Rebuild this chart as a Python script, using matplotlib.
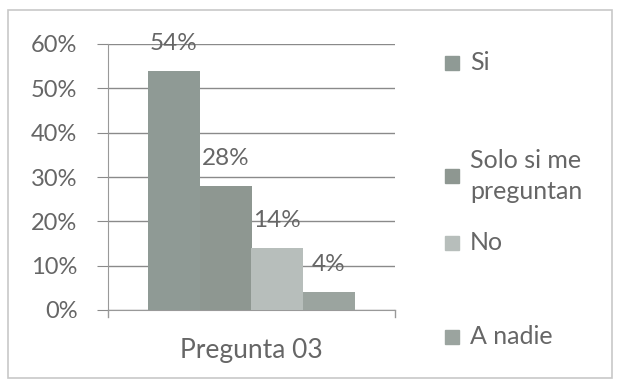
import matplotlib
matplotlib.use("Agg")
import matplotlib.pyplot as plt
from matplotlib.patches import Rectangle
from matplotlib.ticker import FuncFormatter

categories = ["Si", "Solo si me\npreguntan", "No", "A nadie"]
values = [54, 28, 14, 4]
labels = ["54%", "28%", "14%", "4%"]
colors = ["#8f9a95", "#8e9791", "#b7bebb", "#9ba49f"]
xlabel = "Pregunta 03"
yticks = [0, 10, 20, 30, 40, 50, 60]

plt.rcParams['font.family'] = ['Lato', 'DejaVu Sans']
text_color = "#666666"

W, H = 618, 380
fig = plt.figure(figsize=(6.18, 3.8), dpi=100)
fig.patch.set_facecolor("white")
fig.patches.append(Rectangle((8/W, 2/H), 604/W, 368/H, transform=fig.transFigure,
                             fill=False, edgecolor="#c8c8c8", linewidth=1.2))

ax = fig.add_axes([108/W, 1 - 310/H, (395-108)/W, (310-44)/H])
ax.set_xlim(0, 1)
ax.set_ylim(0, 60)

bw = 0.18
x0 = 0.14
for i, (v, c, lab) in enumerate(zip(values, colors, labels)):
    xc = x0 + bw * (i + 0.5)
    ax.bar(xc, v, width=bw, color=c, edgecolor="none", label=categories[i], zorder=3)
    ax.text(xc, v + 6.2, lab, ha="center", va="center", fontsize=17.5, color=text_color, zorder=4)

ax.set_yticks(yticks)
ax.yaxis.set_major_formatter(FuncFormatter(lambda v, p: f"{int(v)}%"))
ax.grid(axis="y", color="#8a8a8a", linewidth=1.0, zorder=0)
ax.tick_params(axis="y", length=8, color="#8a8a8a", labelsize=17, labelcolor=text_color, pad=14)
ax.set_xticks([])
for s in ["top", "right"]:
    ax.spines[s].set_visible(False)
ax.spines["left"].set_color("#999999")
ax.spines["bottom"].set_color("#999999")
ax.plot([1, 1], [0, -1.5], color="#999999", lw=1, clip_on=False)
ax.plot([0, 0], [0, -1.5], color="#999999", lw=1, clip_on=False)
ax.set_xlabel(xlabel, fontsize=19, color=text_color, labelpad=20)

# legend, placed by hand to follow the reference spacing
leg_y = [63, 176, 243, 337]
for cat, c, yy in zip(categories, colors, leg_y):
    fig.patches.append(Rectangle((445/W, 1 - (yy + 7)/H), 14/W, 14/H,
                                 transform=fig.transFigure, color=c))
    fig.text(470/W, 1 - yy/H, cat, ha="left", va="center", fontsize=18,
             color=text_color, linespacing=1.4)

fig.savefig("out.png", dpi=100, facecolor="white")
